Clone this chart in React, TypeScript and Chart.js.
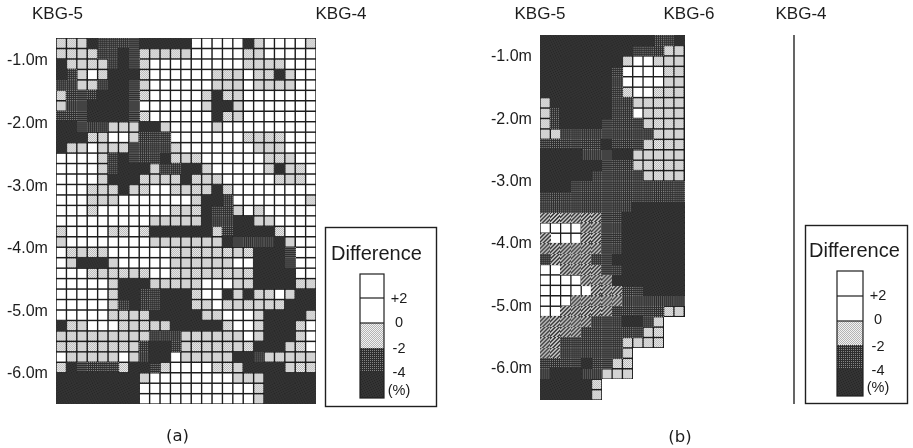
import React, { useEffect, useRef } from "react";
import { Chart, registerables } from "chart.js";

Chart.register(...registerables);

// W: above 0 %, L: 0 to -2 %, D: -2 to -4 %, K: below -4 %, H: hatched band
const panelARows = [
  "LLLKDDDDKKKKKWWWWWKLWWWWL",
  "LLLLDDKDLLLLLWWWWWLLWWWWW",
  "KLLLLDKDLWWWWWWWWWLLLLWWW",
  "KDLWLKKKLWWWWWWLLLWLLKLWW",
  "DDLLDKKDLWWWWWWLLLWLLLLWW",
  "LDDDKKKDLWWWWWLKLLWWWWWWW",
  "LDDKKKKDWWWWWWLKKLWWWWWWW",
  "DDDKKKKDLWWWWWWKLLWWWWWWW",
  "KKDDDLLLKKLWWWWLWWWWWWWWW",
  "KKKLLWWLDDDWWWWWWWLLLLWWW",
  "KLLWLLLDDDDLWWWWWWWLLLWWW",
  "WWWWLDKDDDKLLLWWWWWWLLLWW",
  "WWWWLDKKKLDDKKLWWWWWLKLLW",
  "WWWWLKKKLLLLKLLLWWWWWLLLW",
  "WWWLLLKLLWWLLLLKLWWWWWWWW",
  "WWWLLLWWWWWWWLKKDWWWWWWWL",
  "WWWLWWWWWWWLLLKDDLWLWWWWW",
  "WWWWWWWWWLLLLLKDDKKLLWWWW",
  "LWWWWLLWLKKKKKKLDKKKKLWWW",
  "LWWWWWWWWLLLLLLLKDDDDKLWW",
  "WLLLLWWWWWWLLLLLLLLKKKDWW",
  "WLKKKLWWWWWLLLLLLWWKKKDWW",
  "WWWLLLLLLWWLLLLLLLLKKKKWW",
  "WWWWWLKKKLLLLLWWWLLKKKKLL",
  "WWWWWLKKDDKKKLWWKLKLLWLKK",
  "WWWWWLDKDDKKKLLWLLLLLLKKK",
  "WWWWWLLLLKKKKKLLWWWLKKKKL",
  "KLLWWWLLLLLKKKKKLWWLKKKLW",
  "LLLLLLLLLDDDLLLLLLWLKKKLW",
  "LLLLLLLLDKKDLLLLLLLKKKLLW",
  "WLLLLLWLDKKWLLLLLKKDLLLLL",
  "LKDDDDLKKDLWWWWLLLKKKKLLL",
  "KKKKKKKKLWWWWWWWWLLLKKKKK",
  "KKKKKKKKWWWWWWWWWWWLKKKKK",
  "KKKKKKKKWWWWWWWWWWWLKKKKK",
];

const panelBRows = [
  "KKKKKKKKKKKDDK",
  "KKKKKKKKKDDDLL",
  "KKKKKKKKLWWLLL",
  "KKKKKKKDWWWWLL",
  "KKKKKKKDWWWWLL",
  "KKKKKKKDLWWLLL",
  "LKKKKKKDDLLLLL",
  "LDKKKKKDDWLLLL",
  "LDKKKKDDDDLLLL",
  "LLDDDDDDDDDLLL",
  "DDDDDDKDDDLLLL",
  "KKKKDDDKKLLLLL",
  "KKKKKKDDDLLLLL",
  "KKKKKDDDDDLLLL",
  "KKKDDDDDDDDDDD",
  "DDDDDDDDDDDDDD",
  "DDDDDDDDDKKKKK",
  "HHHHHHDDKKKKKK",
  "WWWWHHDDKKKKKK",
  "HWWWHHDDKKKKKK",
  "HHHHHHDDKKKKKK",
  "DHHHHDDKKKKKKK",
  "WWHHHHDDKKKKKK",
  "WWWWHHHKKKKKKK",
  "WWWWWHHHDDKKKK",
  "WWWHHHHHDDDDDD",
  "WWHHHHHDDDDDLL",
  "HHHHHDDDKKDL",
  "HHHHDDDDDDLL",
  "HHDDDDDDLLLL",
  "HHDDDDDDL",
  "DDDDKDDLL",
  "DKKKDDLLL",
  "KKKKKL",
  "KKKKKL",
];

const depthTicks = [-1, -2, -3, -4, -5, -6];
const panelATopLabels = ["KBG-5", "KBG-4"];
const panelBTopLabels = ["KBG-5", "KBG-6", "KBG-4"];
const legendTitle = "Difference";
const legendTickLabels = ["+2", "0", "-2", "-4", "(%)"];
const cellCodes = ["K", "D", "H", "L", "W"];
const legendCodes = ["W", "W", "L", "D", "K"];

const SANS = '"Liberation Sans", Arial, sans-serif';
const CAPTION = '"DejaVu Sans", sans-serif';

function paintCell(code: string, size: number) {
  const c = document.createElement("canvas");
  c.width = size;
  c.height = size;
  const g = c.getContext("2d") as CanvasRenderingContext2D;
  const px = (a: string, b: string, on: (x: number, y: number) => boolean) => {
    for (let y = 0; y < size; y++)
      for (let x = 0; x < size; x++) {
        g.fillStyle = on(x, y) ? a : b;
        g.fillRect(x, y, 1, 1);
      }
  };
  if (code === "K") px("#262626", "#333333", (x, y) => (x * 3 + y) % 5 === 0);
  if (code === "D") px("#858585", "#2e2e2e", (x, y) => x % 2 === 0 && y % 2 === 0);
  if (code === "L") px("#b4b4b4", "#f2f2f2", (x, y) => (x + y) % 2 === 0);
  if (code === "H") px("#3a3a3a", "#c8c8c8", (x, y) => (x + y) % 4 < 2);
  if (code === "W") px("#ffffff", "#ffffff", () => true);
  return c;
}

function cellSprite(code: string) {
  const c = paintCell(code, 11);
  if (code === "W" || code === "L") {
    const g = c.getContext("2d") as CanvasRenderingContext2D;
    g.fillStyle = "#1c1c1c";
    g.fillRect(0, 0, 11, 1);
    g.fillRect(0, 10, 11, 1);
    g.fillRect(0, 0, 1, 11);
    g.fillRect(10, 0, 1, 11);
  }
  return c;
}

type PanelSpec = {
  rows: string[];
  originX: number;
  width: number;
  left: number;
  top: number;
  cellW: number;
  cellH: number;
  oneMetreY: number;
  pxPerMetre: number;
  labelX: number;
  topLabels: string[];
  topLabelX: number[];
  divider?: { x: number; y0: number; y1: number };
  caption: { text: string; x: number; y: number };
  legend: {
    box: [number, number, number, number];
    titleX: number;
    titleY: number;
    barX: number;
    barW: number;
    barEdges: number[];
    labelX: number;
    labelY: number[];
  };
};

const H = 448;
const AXIS_TOP = 30;

function buildChart(canvas: HTMLCanvasElement, p: PanelSpec) {
  const yVal = (px: number) => -1 - (px - p.oneMetreY) / p.pxPerMetre;
  const xVal = (px: number) => (px - p.left) / p.cellW;

  const datasets: any[] = cellCodes.map((code) => {
    const data: { x: number; y: number }[] = [];
    p.rows.forEach((row, r) => {
      [...row].forEach((ch, c) => {
        if (ch === code) data.push({ x: c + 0.5, y: yVal(p.top + p.cellH * (r + 0.5)) });
      });
    });
    return {
      label: code,
      data,
      pointStyle: cellSprite(code),
      pointRadius: 5,
      showLine: false,
    };
  });
  if (p.divider) {
    const d = p.divider;
    datasets.push({
      label: "divider",
      data: [
        { x: xVal(d.x), y: yVal(d.y0) },
        { x: xVal(d.x), y: yVal(d.y1) },
      ],
      showLine: true,
      pointRadius: 0,
      borderColor: "#262626",
      borderWidth: 1.4,
    });
  }

  const notes = {
    id: "panelNotes",
    afterDraw(chart: Chart) {
      const g = chart.ctx;
      const l = p.legend;
      g.save();
      g.translate(-p.originX, 0);
      g.strokeStyle = "#1f1f1f";
      g.lineWidth = 1.4;
      g.strokeRect(l.box[0], l.box[1], l.box[2], l.box[3]);
      g.fillStyle = "#1c1c1c";
      g.textBaseline = "middle";
      g.textAlign = "left";
      g.font = `20px ${SANS}`;
      g.fillText(legendTitle, l.titleX, l.titleY);
      legendCodes.forEach((code, i) => {
        const y0 = l.barEdges[i];
        const y1 = l.barEdges[i + 1];
        const sw = paintCell(code, 40);
        g.drawImage(sw, 0, 0, l.barW, y1 - y0, l.barX, y0, l.barW, y1 - y0);
      });
      g.lineWidth = 1.2;
      g.strokeRect(l.barX, l.barEdges[0], l.barW, l.barEdges[5] - l.barEdges[0]);
      [1, 2].forEach((i) => {
        g.beginPath();
        g.moveTo(l.barX, l.barEdges[i]);
        g.lineTo(l.barX + l.barW, l.barEdges[i]);
        g.stroke();
      });
      g.font = `14.5px ${SANS}`;
      g.textAlign = "center";
      legendTickLabels.forEach((t, i) => g.fillText(t, l.labelX, l.labelY[i]));
      g.font = `16.5px ${CAPTION}`;
      g.fillText(p.caption.text, p.caption.x, p.caption.y);
      g.restore();
    },
  };

  return new Chart(canvas, {
    type: "scatter",
    data: { datasets },
    plugins: [notes],
    options: {
      responsive: false,
      animation: false,
      layout: { padding: 0, autoPadding: false },
      plugins: { legend: { display: false }, tooltip: { enabled: false } },
      scales: {
        x: {
          type: "linear",
          position: "top",
          min: xVal(p.originX),
          max: xVal(p.originX + p.width),
          grid: { display: false, drawTicks: false },
          border: { display: false },
          afterFit: (s: any) => {
            s.height = AXIS_TOP;
            s.paddingLeft = 0;
            s.paddingRight = 0;
          },
          afterBuildTicks: (s: any) => {
            s.ticks = p.topLabelX.map((px) => ({ value: xVal(px) }));
          },
          ticks: {
            autoSkip: false,
            maxRotation: 0,
            minRotation: 0,
            padding: 5,
            color: "#1c1c1c",
            font: { family: SANS, size: 17 },
            callback: (_v: any, i: number) => p.topLabels[i],
          },
        },
        y: {
          type: "linear",
          position: "left",
          min: yVal(H),
          max: yVal(AXIS_TOP),
          grid: { display: false, drawTicks: false },
          border: { display: false },
          afterFit: (s: any) => {
            s.width = 0;
            s.paddingTop = 0;
            s.paddingBottom = 0;
          },
          afterBuildTicks: (s: any) => {
            s.ticks = depthTicks.map((value) => ({ value }));
          },
          ticks: {
            mirror: true,
            padding: p.labelX - p.originX,
            color: "#1c1c1c",
            font: { family: SANS, size: 16 },
            callback: (v: any) => `${Number(v).toFixed(1)}m`,
          },
        },
      },
    } as any,
  });
}

const panelA: PanelSpec = {
  rows: panelARows,
  originX: 0,
  width: 457,
  left: 56,
  top: 38,
  cellW: 10.4,
  cellH: 10.46,
  oneMetreY: 61,
  pxPerMetre: 62.6,
  labelX: 7,
  topLabels: panelATopLabels,
  topLabelX: [57.5, 341],
  caption: { text: "(a)", x: 177.5, y: 437 },
  legend: {
    box: [325.5, 227.5, 111, 179],
    titleX: 331,
    titleY: 254,
    barX: 360,
    barW: 24,
    barEdges: [274, 298, 323, 348, 372, 398],
    labelX: 399,
    labelY: [299, 323, 349, 373, 391],
  },
};

const panelB: PanelSpec = {
  rows: panelBRows,
  originX: 457,
  width: 456,
  left: 540,
  top: 35,
  cellW: 10.3,
  cellH: 10.43,
  oneMetreY: 57,
  pxPerMetre: 62.3,
  labelX: 491,
  topLabels: panelBTopLabels,
  topLabelX: [540, 689, 801],
  divider: { x: 794, y0: 35, y1: 404 },
  caption: { text: "(b)", x: 680, y: 438 },
  legend: {
    box: [805.5, 225.5, 102, 178],
    titleX: 809,
    titleY: 251,
    barX: 837,
    barW: 26,
    barEdges: [271, 296, 321, 345, 369, 396],
    labelX: 878,
    labelY: [296, 320, 347, 371, 388],
  },
};

export default function App() {
  const aRef = useRef<HTMLCanvasElement>(null);
  const bRef = useRef<HTMLCanvasElement>(null);
  useEffect(() => {
    const a = buildChart(aRef.current as HTMLCanvasElement, panelA);
    const b = buildChart(bRef.current as HTMLCanvasElement, panelB);
    return () => {
      a.destroy();
      b.destroy();
    };
  }, []);
  return (
    <div style={{ position: "absolute", left: 0, top: 0, width: 913, height: H, background: "#fff", overflow: "hidden" }}>
      <canvas ref={aRef} width={panelA.width} height={H} style={{ position: "absolute", left: panelA.originX, top: 0, width: panelA.width, height: H }} />
      <canvas ref={bRef} width={panelB.width} height={H} style={{ position: "absolute", left: panelB.originX, top: 0, width: panelB.width, height: H }} />
    </div>
  );
}
